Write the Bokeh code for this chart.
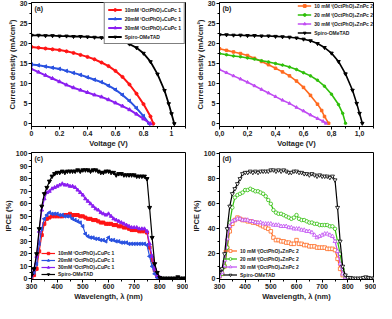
from bokeh.plotting import figure
from bokeh.layouts import gridplot
from bokeh.models import Legend, LegendItem, Label, CustomJSTickFormatter, FixedTicker, Range1d
from bokeh.embed import file_html
from bokeh.resources import INLINE
import math

FONT = "Liberation Sans"

# ---------------- data ----------------
# (a) J-V, CuPc 1
v_red_a = [0, 0.05, 0.1, 0.15, 0.2, 0.25, 0.3, 0.35, 0.4, 0.45, 0.5, 0.55, 0.6, 0.65, 0.7, 0.75, 0.8, 0.85, 0.87]
j_red_a = [19.2, 19.0, 18.8, 18.6, 18.4, 18.1, 17.7, 17.2, 16.7, 16.1, 15.3, 14.4, 13.2, 11.7, 9.8, 7.5, 4.9, 1.8, 0]
v_blue_a = [0, 0.05, 0.1, 0.15, 0.2, 0.25, 0.3, 0.35, 0.4, 0.45, 0.5, 0.55, 0.6, 0.65, 0.7, 0.75, 0.8, 0.84]
j_blue_a = [14.8, 14.6, 14.3, 14.0, 13.7, 13.2, 12.7, 12.2, 11.6, 11.0, 10.4, 9.5, 8.5, 7.2, 5.7, 3.9, 1.9, 0]
v_pur_a = [0, 0.05, 0.1, 0.15, 0.2, 0.25, 0.3, 0.35, 0.4, 0.45, 0.5, 0.55, 0.6, 0.65, 0.7, 0.75, 0.8, 0.85]
j_pur_a = [13.7, 12.9, 12.1, 11.3, 10.5, 9.7, 9.0, 8.4, 7.8, 7.2, 6.7, 6.0, 5.2, 4.4, 3.5, 2.4, 1.2, 0]
v_spiro = [0, 0.05, 0.1, 0.15, 0.2, 0.25, 0.3, 0.35, 0.4, 0.45, 0.5, 0.55, 0.6, 0.65, 0.7, 0.75, 0.8, 0.85, 0.9, 0.95, 0.98, 1.0, 1.02]
j_spiro_a = [22.1, 22.1, 22.0, 22.0, 21.9, 21.9, 21.8, 21.8, 21.7, 21.6, 21.5, 21.3, 21.0, 20.6, 19.9, 19.0, 17.6, 15.5, 12.4, 8.3, 5.0, 2.5, 0]
j_spiro_b = [22.2, 22.2, 22.1, 22.1, 22.0, 22.0, 21.9, 21.9, 21.8, 21.7, 21.6, 21.4, 21.1, 20.7, 20.0, 19.0, 17.6, 15.5, 12.4, 8.3, 5.0, 2.5, 0]

# (b) J-V, ZnPc 2
v_or_b = [0, 0.05, 0.1, 0.15, 0.2, 0.25, 0.3, 0.35, 0.4, 0.45, 0.5, 0.55, 0.6, 0.65, 0.7, 0.73, 0.75, 0.78]
j_or_b = [18.7, 18.3, 17.9, 17.5, 17.0, 16.3, 15.5, 14.7, 13.8, 12.9, 11.9, 10.6, 9.0, 7.0, 4.8, 3.2, 1.7, 0]
v_gr_b = [0, 0.05, 0.1, 0.15, 0.2, 0.25, 0.3, 0.35, 0.4, 0.45, 0.5, 0.55, 0.6, 0.65, 0.7, 0.75, 0.8, 0.85, 0.88, 0.9]
j_gr_b = [17.5, 17.2, 16.9, 16.7, 16.4, 16.1, 15.7, 15.4, 15.0, 14.6, 14.1, 13.5, 12.7, 11.9, 10.8, 9.3, 7.3, 4.7, 2.5, 0]
v_pu_b = [0, 0.05, 0.1, 0.15, 0.2, 0.25, 0.3, 0.35, 0.4, 0.45, 0.5, 0.55, 0.6, 0.65, 0.7, 0.74, 0.76]
j_pu_b = [13.5, 12.7, 11.9, 11.1, 10.3, 9.4, 8.5, 7.6, 6.7, 5.8, 5.0, 4.0, 3.1, 2.1, 1.2, 0.5, 0]

# IPCE wavelengths
wl_full = list(range(300, 901, 10))
wl_800 = list(range(300, 801, 10))
wl_790 = list(range(300, 791, 10))

ipce_spiro_c = [3, 8, 20, 40, 58, 68, 73, 78, 82, 84, 85, 85, 86, 85, 86, 86, 86, 86, 87, 86, 87, 87, 87, 86, 87, 87,
                86, 85, 85, 86, 86, 85, 85, 83, 84, 84, 83, 83, 83, 83, 83, 82, 82, 82, 82, 80, 57, 33, 12, 5, 1,
                0.5, 0.5, 0.5, 0.5, 0.5, 0.5, 1.5, 0.5, 0.5, 0.5]
ipce_red_c = [1, 3, 8, 22, 35, 44, 48, 49, 50, 50, 50, 50, 50, 51, 51, 52, 51, 51, 51, 50, 50, 49, 48, 48, 47, 47,
              46, 45, 45, 44, 44, 44, 43, 43, 42, 42, 41, 41, 40, 39, 39, 39, 38, 38, 38, 37, 25, 15, 7, 2, 0.5]
ipce_blue_c = [2, 5, 12, 28, 40, 48, 51, 53, 52, 52, 52, 51, 51, 50, 50, 50, 48, 47, 46, 45, 42, 36, 34, 33, 33, 32,
               32, 31, 31, 30, 33, 31, 31, 30, 30, 29, 29, 29, 28, 28, 28, 28, 28, 28, 28, 27, 18, 10, 4, 1, 0.5]
ipce_pur_c = [3, 8, 18, 38, 55, 64, 69, 70, 72, 73, 74, 75, 76, 75, 75, 74, 74, 73, 71, 69, 67, 64, 62, 60, 58, 56,
              55, 53, 52, 51, 52, 50, 48, 47, 46, 45, 44, 43, 42, 41, 41, 41, 40, 40, 40, 38, 28, 18, 8, 3, 1]

ipce_spiro_d = [5, 8, 20, 40, 58, 68, 72, 76, 80, 84, 85, 85, 86, 85, 86, 85, 86, 86, 86, 86, 87, 87, 86, 87, 86, 87,
                86, 85, 85, 86, 86, 85, 85, 84, 84, 83, 84, 83, 82, 83, 82, 82, 82, 81, 82, 79, 57, 30, 10, 3, 1,
                1, 0.5, 0.5, 0.5, 0.5, 1, 1.5, 1, 0.5, 0.5]
ipce_or_d = [2, 4, 10, 25, 38, 44, 47, 49, 48, 47, 47, 46, 46, 45, 45, 44, 43, 42, 41, 40, 38, 33, 31, 31, 30, 30,
             29, 29, 28, 28, 31, 28, 28, 27, 27, 26, 26, 26, 25, 25, 25, 25, 24, 24, 24, 23, 16, 8, 3, 0.5]
ipce_gr_d = [2, 4, 10, 25, 45, 57, 65, 67, 68, 69, 71, 71, 72, 71, 70, 70, 69, 68, 66, 63, 60, 55, 53, 52, 52, 51,
             50, 49, 48, 49, 51, 48, 47, 47, 46, 45, 45, 44, 44, 43, 43, 43, 43, 42, 42, 40, 30, 20, 8, 2, 0.5]
ipce_pu_d = [2, 5, 15, 32, 42, 46, 47, 48, 48, 47, 47, 47, 46, 46, 45, 45, 45, 44, 44, 44, 44, 43, 43, 43, 42, 42,
             42, 41, 41, 40, 40, 40, 39, 39, 38, 38, 37, 35, 33, 34, 35, 36, 36, 35, 34, 30, 22, 12, 4, 1, 0.5]

labels_a = ["10mM \u1d57OctPhO)\u2084CuPc 1", "20mM \u1d57OctPhO)\u2084CuPc 1",
            "30mM \u1d57OctPhO)\u2084CuPc 1", "Spiro-OMeTAD"]
labels_b = ["10 mM \u1d57(OctPhO)\u2084ZnPc 2", "20 mM \u1d57(OctPhO)\u2084ZnPc 2",
            "30 mM \u1d57(OctPhO)\u2084ZnPc 2", "Spiro-OMeTAD"]

RED, BLUE, PURA, BLACK = "#ff1414", "#2a52e0", "#8a1ef0", "#000000"
ORANGE, GREEN, PURB = "#ff6a1f", "#2fbf0a", "#c04cf2"

jv_x_ticks = [0, 0.2, 0.4, 0.6, 0.8, 1.0]
jv_x_minor = [0.1, 0.3, 0.5, 0.7, 0.9, 1.1]
jv_y_ticks = [0, 5, 10, 15, 20, 25, 30]
jv_y_minor = [2.5, 7.5, 12.5, 17.5, 22.5, 27.5]
wl_ticks = [300, 400, 500, 600, 700, 800, 900]
wl_minor = [350, 450, 550, 650, 750, 850]
ipce_c_ticks = list(range(0, 101, 10))
ipce_c_minor = list(range(5, 100, 10))
ipce_d_ticks = list(range(0, 101, 20))
ipce_d_minor = list(range(10, 100, 20))


def make_fig(w, h, xr, yr, xt, xm, yt, ym, xlabel, ylabel):
    p = figure(width=w, height=h, x_range=Range1d(*xr), y_range=Range1d(*yr),
               output_backend="svg", toolbar_location=None,
               min_border_left=24, min_border_right=3, min_border_top=2, min_border_bottom=2)
    p.xgrid.visible = False
    p.ygrid.visible = False
    p.outline_line_color = "black"
    p.outline_line_alpha = 1
    p.outline_line_width = 1
    p.xaxis.ticker = FixedTicker(ticks=xt, minor_ticks=xm)
    p.yaxis.ticker = FixedTicker(ticks=yt, minor_ticks=ym)
    p.xaxis.axis_label = xlabel
    p.yaxis.axis_label = ylabel
    for ax in (p.xaxis[0], p.yaxis[0]):
        ax.axis_line_color = "black"
        ax.major_tick_out = 3
        ax.major_tick_in = 0
        ax.minor_tick_out = 2
        ax.minor_tick_in = 0
        ax.major_label_text_font = FONT
        ax.major_label_text_font_size = "7px"
        ax.major_label_text_font_style = "bold"
        ax.major_label_text_color = "#222222"
        ax.axis_label_text_font = FONT
        ax.axis_label_text_font_size = "7.5px"
        ax.axis_label_text_font_style = "bold"
        ax.axis_label_text_color = "#222222"
        ax.axis_label_standoff = 0
        ax.major_label_standoff = 1
    p.background_fill_color = "white"
    return p


def series(p, x, y, color, marker, size, lw, open_marker=False, angle=0.0):
    r1 = p.line(x, y, line_color=color, line_width=lw)
    if open_marker:
        r2 = p.scatter(x, y, marker=marker, size=size, line_color=color, fill_color="white", line_width=0.8, angle=angle)
    else:
        r2 = p.scatter(x, y, marker=marker, size=size, line_color=color, fill_color=color, angle=angle)
    return [r1, r2]


def panel_label(p, txt, x, y):
    p.add_layout(Label(x=x, y=y, text=txt, x_offset=3, y_offset=-2, text_baseline="top",
                       text_font=FONT, text_font_size="7px", text_font_style="bold", text_color="#222222"))


def add_legend(p, items, loc, border, row_h=7, gap=2):
    leg = Legend(items=items, location=loc, orientation="vertical",
                 label_text_font=FONT, label_text_font_size="5px", label_text_font_style="bold",
                 label_text_color="#222222",
                 glyph_width=14, glyph_height=row_h, label_height=row_h, label_standoff=3,
                 spacing=gap, padding=3, margin=0,
                 border_line_color="black" if border else None,
                 border_line_width=1,
                 background_fill_alpha=1 if border else 0)
    p.add_layout(leg)


W, H1, H2 = 188, 150, 153

# (a)
pa = make_fig(W, H1, (0, 1.1), (-0.7, 30.3), jv_x_ticks, jv_x_minor, jv_y_ticks, jv_y_minor,
              "Voltage (V)", "Current density (mA/cm\u00b2)")
ra1 = series(pa, v_red_a, j_red_a, RED, "circle", 3, 2)
ra2 = series(pa, v_blue_a, j_blue_a, BLUE, "triangle", 3.5, 2, angle=math.pi / 2)
ra3 = series(pa, v_pur_a, j_pur_a, PURA, "triangle", 3.5, 2)
ra4 = series(pa, v_spiro, j_spiro_a, BLACK, "inverted_triangle", 3.5, 1.8)
add_legend(pa, [LegendItem(label=labels_a[0], renderers=ra1), LegendItem(label=labels_a[1], renderers=ra2),
                LegendItem(label=labels_a[2], renderers=ra3), LegendItem(label=labels_a[3], renderers=ra4)],
           "top_right", True)
panel_label(pa, "(a)", 0, 30.3)

# (b)
pb = make_fig(W, H1, (0, 1.1), (-0.8, 30.3), jv_x_ticks, jv_x_minor, jv_y_ticks, jv_y_minor,
              "Voltage (V)", "Current density (mA/cm\u00b2)")
pb.xaxis.formatter = CustomJSTickFormatter(code="return tick.toFixed(1).replace('.', ',');")
rb1 = series(pb, v_or_b, j_or_b, ORANGE, "square", 2.5, 1.6)
rb2 = series(pb, v_gr_b, j_gr_b, GREEN, "circle", 2.5, 1.6)
rb3 = series(pb, v_pu_b, j_pu_b, PURB, "triangle", 3, 1.6)
rb4 = series(pb, v_spiro, j_spiro_b, BLACK, "inverted_triangle", 3.5, 1.6)
add_legend(pb, [LegendItem(label=labels_b[0], renderers=rb1), LegendItem(label=labels_b[1], renderers=rb2),
                LegendItem(label=labels_b[2], renderers=rb3), LegendItem(label=labels_b[3], renderers=rb4)],
           "top_right", False)
panel_label(pb, "(b)", 0, 30.3)

# (c)
pc = make_fig(W, H2, (300, 900), (-0.5, 101), wl_ticks, wl_minor, ipce_c_ticks, ipce_c_minor,
              "Wavelength, \u03bb (nm)", "IPCE (%)")
rc1 = series(pc, wl_800, ipce_red_c, RED, "square", 3, 1.2)
rc2 = series(pc, wl_800, ipce_blue_c, BLUE, "triangle", 3.5, 1.2, angle=math.pi / 2)
rc3 = series(pc, wl_800, ipce_pur_c, PURA, "triangle", 3.5, 1.2)
rc4 = series(pc, wl_full, ipce_spiro_c, BLACK, "inverted_triangle", 4, 1.2)
add_legend(pc, [LegendItem(label=labels_a[0], renderers=rc1), LegendItem(label=labels_a[1], renderers=rc2),
                LegendItem(label=labels_a[2], renderers=rc3), LegendItem(label=labels_a[3], renderers=rc4)],
           (10, 2), False, row_h=6, gap=1)
panel_label(pc, "(c)", 300, 101)

# (d)
pd = make_fig(W, H2, (300, 900), (-0.5, 101), wl_ticks, wl_minor, ipce_d_ticks, ipce_d_minor,
              "Wavelength, \u03bb (nm)", "IPCE (%)")
rd1 = series(pd, wl_790, ipce_or_d, ORANGE, "square", 3.5, 1.2, open_marker=True)
rd2 = series(pd, wl_800, ipce_gr_d, GREEN, "circle", 3.5, 1.2, open_marker=True)
rd3 = series(pd, wl_800, ipce_pu_d, PURB, "triangle", 4, 1.2, open_marker=True)
rd4 = series(pd, wl_full, ipce_spiro_d, BLACK, "inverted_triangle", 4, 1.2, open_marker=True)
add_legend(pd, [LegendItem(label=labels_b[0], renderers=rd1), LegendItem(label=labels_b[1], renderers=rd2),
                LegendItem(label=labels_b[2], renderers=rd3), LegendItem(label=labels_b[3], renderers=rd4)],
           (4, 1), False, row_h=7, gap=1)
panel_label(pd, "(d)", 300, 101)

grid = gridplot([[pa, pb], [pc, pd]], toolbar_location=None)

open("out.html", "w").write(file_html(grid, INLINE))
